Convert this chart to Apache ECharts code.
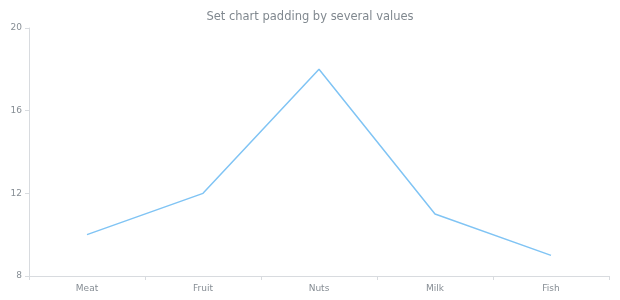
<!DOCTYPE html>
<html><head><meta charset="utf-8">
<script src="https://cdn.jsdelivr.net/npm/echarts@6/dist/echarts.min.js"></script>
<style>html,body{margin:0;padding:0;background:#fff}#c{width:620px;height:300px}</style>
</head><body><div id="c"></div>
<script>
const categories = ['Meat', 'Fruit', 'Nuts', 'Milk', 'Fish'];
const values = [10, 12, 18, 11, 9];
const yTicks = [8, 12, 16, 20];
const titleText = 'Set chart padding by several values';

const chart = echarts.init(document.getElementById('c'), null, {renderer: 'canvas'});
chart.setOption({
  animation: false,
  backgroundColor: '#ffffff',
  title: {
    text: titleText, left: 'center', top: 6,
    textStyle: {fontFamily: 'DejaVu Sans', fontSize: 11.5, fontWeight: 'normal', color: '#80888f'}
  },
  grid: {left: 29, right: 11, top: 28, bottom: 24},
  xAxis: {
    type: 'category', data: categories, boundaryGap: true,
    axisLine: {lineStyle: {color: '#d8dbdf', width: 1}},
    axisTick: {show: true, length: 4, inside: false, lineStyle: {color: '#d8dbdf'}},
    axisLabel: {fontFamily: 'DejaVu Sans', fontSize: 9, color: '#868d94', margin: 8}
  },
  yAxis: {
    type: 'value', min: yTicks[0], max: yTicks[yTicks.length - 1], interval: 4,
    axisLine: {show: true, lineStyle: {color: '#d8dbdf', width: 1}},
    axisTick: {show: true, length: 4, lineStyle: {color: '#d8dbdf'}},
    splitLine: {show: false},
    axisLabel: {fontFamily: 'DejaVu Sans', fontSize: 9, color: '#868d94', margin: 7}
  },
  series: [{
    type: 'line', data: values, showSymbol: false, symbol: 'none',
    lineStyle: {color: '#80c4f4', width: 1.5}
  }]
});
</script></body></html>
